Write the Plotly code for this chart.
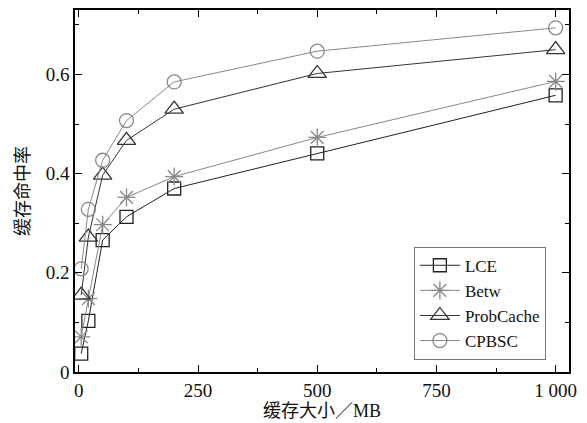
import plotly.graph_objects as go

cache_size = [5, 20, 50, 100, 200, 500, 1000]
lce = [0.037, 0.103, 0.266, 0.313, 0.370, 0.441, 0.558]
betw = [0.071, 0.148, 0.297, 0.352, 0.394, 0.473, 0.586]
probcache = [0.155, 0.272, 0.397, 0.467, 0.530, 0.602, 0.650]
cpbsc = [0.208, 0.328, 0.427, 0.507, 0.585, 0.647, 0.694]

x_tickvals = [0, 250, 500, 750, 1000]
x_ticktext = ["0", "250", "500", "750", "1 000"]
y_tickvals = [0, 0.2, 0.4, 0.6]
y_ticktext = ["0", "0.2", "0.4", "0.6"]

series = [
    ("LCE", lce, "#222222", "square-open", 13),
    ("Betw", betw, "#888888", "asterisk-open", 15),
    ("ProbCache", probcache, "#333333", "triangle-up-open", 16),
    ("CPBSC", cpbsc, "#888888", "circle-open", 14),
]

fig = go.Figure()
for name, ys, col, sym, sz in series:
    fig.add_trace(go.Scatter(
        x=cache_size, y=ys, name=name, mode="lines+markers",
        line=dict(color=col, width=1),
        marker=dict(symbol=sym, size=sz, color=col, line=dict(width=1.3, color=col)),
    ))

font_family = "Liberation Serif, Noto Sans CJK SC, serif"
fig.update_layout(
    width=587, height=423,
    margin=dict(l=75, r=18, t=8, b=51),
    paper_bgcolor="white", plot_bgcolor="white",
    font=dict(family=font_family, size=19, color="#111111"),
    showlegend=True,
    legend=dict(
        x=0.686, y=0.19, xanchor="left", yanchor="middle",
        bordercolor="#777777", borderwidth=1, bgcolor="white",
        font=dict(size=17), tracegroupgap=0, itemwidth=40,
    ),
)
fig.update_xaxes(
    range=[-8, 1028], tickvals=x_tickvals, ticktext=x_ticktext,
    showline=True, linecolor="black", linewidth=1.5, mirror="ticks",
    ticks="inside", ticklen=7, tickcolor="black", tickwidth=1.3,
    minor=dict(dtick=125, tick0=0, ticks="inside", ticklen=4, tickcolor="black", showgrid=False),
    showgrid=False, zeroline=False, tickfont=dict(size=19),
    title=dict(text="缓存大小／MB", standoff=0, font=dict(size=18)),
)
fig.update_yaxes(
    range=[0, 0.73], tickvals=y_tickvals, ticktext=y_ticktext,
    showline=True, linecolor="black", linewidth=1.5, mirror="ticks",
    ticks="inside", ticklen=7, tickcolor="black", tickwidth=1.3,
    minor=dict(dtick=0.1, tick0=0, ticks="inside", ticklen=4, tickcolor="black", showgrid=False),
    showgrid=False, zeroline=False, tickfont=dict(size=19),
    title=dict(text="缓存命中率", standoff=11, font=dict(size=18)),
)
fig.write_html("out.html", config={"displayModeBar": False},
               post_script="document.body.style.margin='0';document.body.style.overflow='hidden';")
